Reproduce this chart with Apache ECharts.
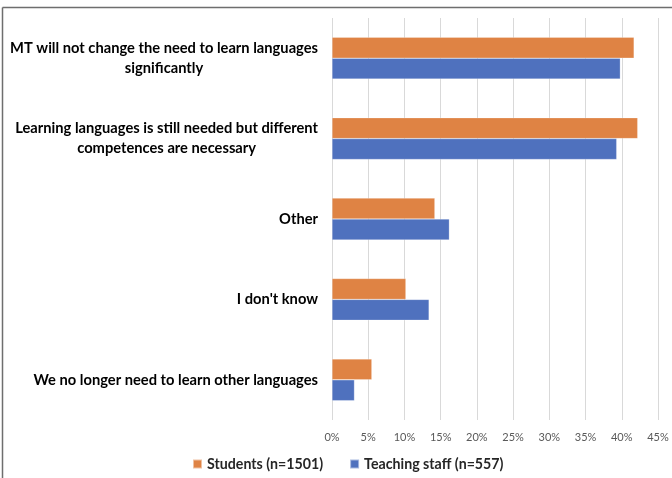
<!DOCTYPE html>
<html>
<head>
<meta charset="utf-8">
<script src="https://cdn.jsdelivr.net/npm/echarts@6/dist/echarts.min.js"></script>
<style>html,body{margin:0;padding:0;background:#fff}#c{width:672px;height:478px}</style>
</head>
<body>
<div id="c"></div>
<script>
var categories = [
  'MT will not change the need to learn languages\nsignificantly',
  'Learning languages is still needed but different\ncompetences are necessary',
  'Other',
  "I don't know",
  'We no longer need to learn other languages'
];
var students = [41.7, 42.2, 14.2, 10.2, 5.5];
var staff = [39.8, 39.3, 16.2, 13.4, 3.1];
var seriesNames = ['Students (n=1501)', 'Teaching staff (n=557)'];
var xTicks = {min: 0, max: 45, interval: 5};

var chart = echarts.init(document.getElementById('c'));
chart.setOption({
  animation: false,
  grid: {left: 332, right: 14, top: 18, bottom: 58, containLabel: false},
  legend: {
    data: seriesNames,
    bottom: 2,
    left: 187,
    itemWidth: 9, itemHeight: 9, itemGap: 26,
    icon: 'rect',
    textStyle: {fontFamily: 'Lato', fontWeight: 'bold', fontSize: 14.2, color: '#262626'}
  },
  xAxis: {
    type: 'value', min: xTicks.min, max: xTicks.max, interval: xTicks.interval,
    axisLine: {show: false}, axisTick: {show: false},
    splitLine: {lineStyle: {color: '#D9D9D9', width: 1}},
    axisLabel: {formatter: '{value}%', color: '#595959', fontSize: 11, fontFamily: 'Lato', margin: 12}
  },
  yAxis: {
    type: 'category', data: categories, inverse: true,
    axisLine: {show: false}, axisTick: {show: false},
    axisLabel: {
      align: 'right', margin: 14,
      formatter: function (v) { return v.split('\n').map(function (s) { return '{c|' + s + '}'; }).join('\n'); },
      rich: {c: {align: 'center', color: '#000', fontFamily: 'Lato', fontWeight: 'bold', fontSize: 14.7, lineHeight: 20}}
    }
  },
  graphic: [
    {type: 'line', shape: {x1: 2.5, y1: 7.5, x2: 672, y2: 7.5}, style: {stroke: '#6E6E6E', lineWidth: 1.5}},
    {type: 'line', shape: {x1: 2.5, y1: 7.5, x2: 2.5, y2: 478}, style: {stroke: '#6E6E6E', lineWidth: 1.5}}
  ],
  series: [
    {name: seriesNames[0], type: 'bar', data: students, barGap: '0%', barCategoryGap: '48%',
      itemStyle: {color: '#DF8344', borderColor: 'rgba(255,255,255,0.5)', borderWidth: 0.5}},
    {name: seriesNames[1], type: 'bar', data: staff, barGap: '0%', barCategoryGap: '48%',
      itemStyle: {color: '#4F71BE', borderColor: 'rgba(255,255,255,0.5)', borderWidth: 0.5}}
  ]
});
</script>
</body>
</html>
